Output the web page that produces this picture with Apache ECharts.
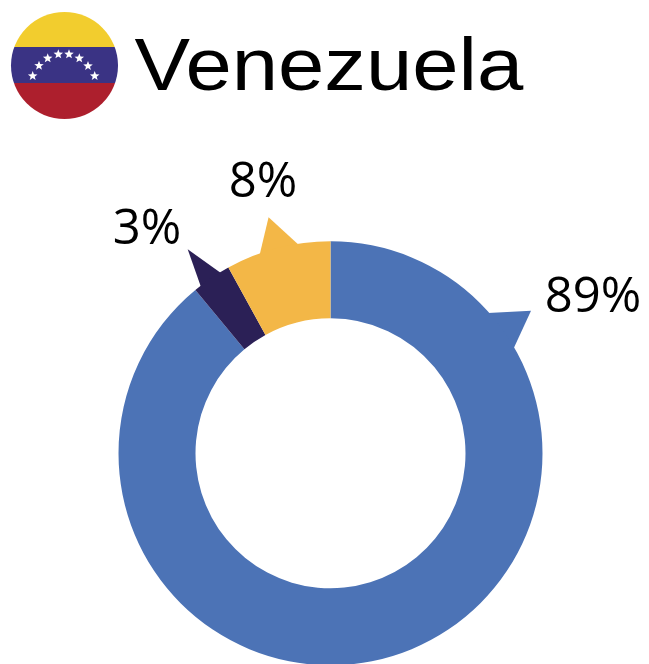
<!DOCTYPE html>
<html>
<head>
<meta charset="utf-8">
<style>
  html, body { margin: 0; padding: 0; background: #fff; }
  #chart { width: 649px; height: 664px; }
</style>
<script src="https://cdn.jsdelivr.net/npm/echarts@6/dist/echarts.min.js"></script>
</head>
<body>
<div id="chart"></div>
<script>
const countryName = 'Venezuela'
const categories = ['A', 'B', 'C']
const seriesValues = [89, 3, 8]
const sliceColors = ['#4c73b6', '#2b2056', '#f3b747']

const cx = 330.5
const cy = 453.3
const innerR = 135
const outerR = 212

// label centre for each slice
const labelSpots = [[593, 298], [147, 230], [263, 183]]

// callout spikes: [base angle, tip angle, other base angle, tip radius], degrees clockwise from 12
const spikes = [[48.3, 54.6, 60.2, 246], [-37.9, -35, -31.3, 249], [-19.6, -14.7, -8.7, 244]]

const starSpots = [[32.7, 76], [39, 65.7], [47.7, 58.3], [58.3, 54.3], [69, 54.3], [79.3, 58.3], [88, 66], [94.7, 76]]

const polar = (deg, r) => {
  const a = deg * Math.PI / 180
  return [cx + r * Math.sin(a), cy - r * Math.cos(a)]
}

const starPoints = (x, y, r) => {
  const pts = []
  for (let i = 0; i < 10; i++) {
    const a = i * Math.PI / 5
    const rr = i % 2 ? r * 0.42 : r
    pts.push([x + rr * Math.sin(a), y - rr * Math.cos(a)])
  }
  return pts
}

const spikeShapes = spikes.map((s, i) => ({
  type: 'polygon',
  silent: true,
  shape: { points: [polar(s[0], outerR - 1), polar(s[1], s[3]), polar(s[2], outerR - 1)] },
  style: { fill: sliceColors[i] }
}))

const flag = [{
  type: 'circle',
  silent: true,
  shape: { cx: 64.5, cy: 65.5, r: 53.5 },
  style: {
    fill: {
      type: 'linear', x: 0, y: 0, x2: 0, y2: 1,
      colorStops: [
        { offset: 0, color: '#f2cd2e' }, { offset: 0.33, color: '#f2cd2e' },
        { offset: 0.33, color: '#3a3384' }, { offset: 0.66, color: '#3a3384' },
        { offset: 0.66, color: '#ad1f2d' }, { offset: 1, color: '#ad1f2d' }
      ]
    }
  }
}].concat(starSpots.map(p => ({
  type: 'polygon',
  silent: true,
  shape: { points: starPoints(p[0], p[1], 5) },
  style: { fill: '#fff' }
})))

// the source picture is a bit wider than tall, so the heading gets stretched
const heading = {
  type: 'text',
  silent: true,
  x: 134.5,
  y: 69.5,
  scaleX: 1.11,
  style: {
    text: countryName,
    fontFamily: 'Liberation Sans',
    fontSize: 75,
    fill: '#000',
    verticalAlign: 'middle'
  }
}

const myChart = echarts.init(document.getElementById('chart'))
myChart.setOption({
  backgroundColor: '#fff',
  animation: false,
  graphic: flag.concat(spikeShapes, [heading]),
  series: [{
    type: 'pie',
    center: [cx, cy],
    radius: [innerR, outerR],
    startAngle: 90,
    clockwise: true,
    silent: true,
    data: categories.map((name, i) => ({
      name: name,
      value: seriesValues[i],
      itemStyle: { color: sliceColors[i] }
    })),
    label: {
      show: true,
      position: 'outside',
      formatter: '{d}%',
      fontFamily: 'Open Sans',
      fontSize: 49,
      color: '#000'
    },
    labelLine: { show: false },
    labelLayout: params => {
      const spot = labelSpots[params.dataIndex]
      return { x: spot[0], y: spot[1], align: 'center', verticalAlign: 'middle' }
    }
  }]
})
</script>
</body>
</html>
